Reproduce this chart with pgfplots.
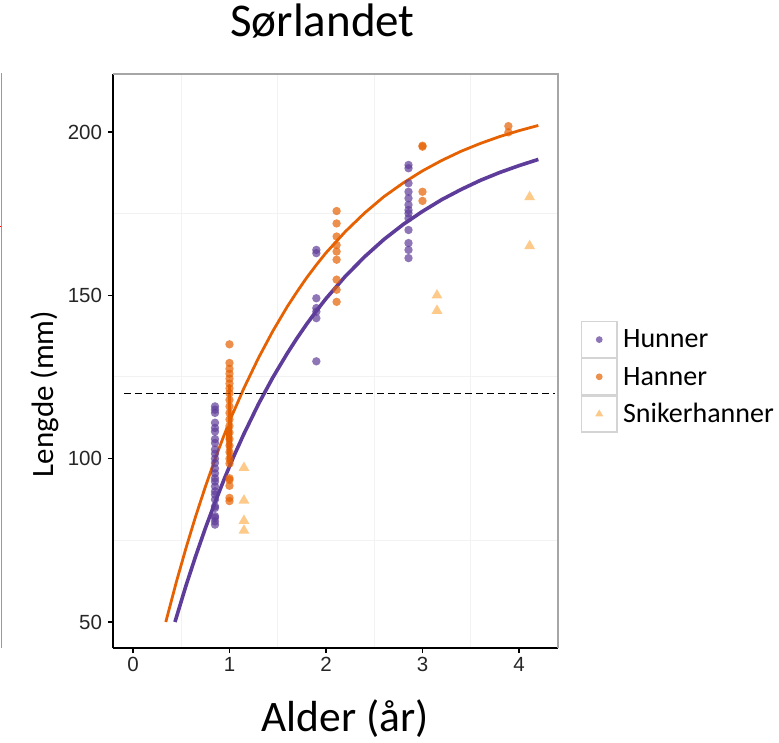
\documentclass[border=0pt]{standalone}
\usepackage{fontspec}
\setmainfont{Carlito}
\newfontfamily\arialf{Liberation Sans}
\usepackage{pgfplots}
\usepackage{pgfplotstable}
\pgfplotsset{compat=1.18}

\definecolor{hun}{HTML}{5E3C99}
\definecolor{han}{HTML}{E66101}
\definecolor{snk}{HTML}{FDB863}

% Observed lengths (mm) by age (years)
\pgfplotstableread{
x y
0.85 116.0
0.85 115.0
0.85 114.0
0.85 111.0
0.85 109.4
0.85 108.3
0.85 106.0
0.85 104.8
0.85 102.8
0.85 101.5
0.85 100.0
0.85 98.7
0.85 97.0
0.85 95.5
0.85 94.0
0.85 93.0
0.85 91.5
0.85 90.0
0.85 89.0
0.85 87.5
0.85 85.4
0.85 84.9
0.85 82.4
0.85 81.9
0.85 80.8
0.85 79.8
1.90 163.9
1.90 162.9
1.90 149.1
1.90 146.1
1.90 145.0
1.90 143.0
1.90 129.8
2.855 189.9
2.855 188.9
2.855 184.3
2.855 181.7
2.855 179.7
2.855 177.7
2.855 176.1
2.855 175.1
2.855 173.6
2.855 170.0
2.855 166.0
2.855 163.9
2.855 161.4
}\hunner

\pgfplotstableread{
x y
1.0 135.0
1.0 129.3
1.0 127.5
1.0 126.0
1.0 124.5
1.0 123.0
1.0 121.5
1.0 120.0
1.0 118.0
1.0 116.0
1.0 114.0
1.0 112.0
1.0 110.0
1.0 108.0
1.0 106.0
1.0 104.0
1.0 102.0
1.0 100.0
1.0 98.5
1.0 94.0
1.0 93.5
1.0 91.7
1.0 88.0
1.0 87.0
2.11 175.8
2.11 172.0
2.11 168.0
2.11 165.4
2.11 163.4
2.11 160.9
2.11 154.8
2.11 151.7
2.11 148.0
3.0 195.8
3.0 195.5
3.0 181.7
3.0 178.9
3.89 201.8
3.89 199.9
}\hanner

\pgfplotstableread{
x y
1.15 97.2
1.15 87.2
1.15 81.0
1.15 78.0
3.15 150.0
3.15 145.3
4.11 180.1
4.11 165.1
}\sniker

% Fitted growth curves
\pgfplotstableread{
x y
0.34 50.0
0.45 62.3
0.55 72.7
0.65 82.4
0.75 91.4
0.85 99.8
0.93 106.1
0.975 109.5
0.993 98.5
1.0 122.5
1.007 98.5
1.012 112.3
1.06 115.5
1.15 121.6
1.3 130.8
1.45 139.1
1.6 146.6
1.7 151.1
1.8 155.4
1.9 159.3
2.0 163.0
2.2 169.5
2.4 175.2
2.6 180.2
2.8 184.4
3.0 188.1
3.2 191.3
3.4 194.1
3.6 196.5
3.8 198.6
4.0 200.4
4.2 202.0
}\hanfit

\pgfplotstableread{
x y
0.435 50.0
0.55 61.2
0.65 70.2
0.75 78.7
0.85 86.6
0.95 94.1
1.05 101.1
1.15 107.6
1.3 116.7
1.45 124.9
1.6 132.3
1.7 136.9
1.8 141.2
1.9 145.2
2.0 149.0
2.2 155.8
2.4 161.8
2.6 167.1
2.8 171.7
3.0 175.7
3.2 179.3
3.4 182.4
3.6 185.2
3.8 187.6
4.0 189.7
4.2 191.6
}\hunfit

\pgfplotsset{
  keybox/.style={legend image code/.code={
    \draw[draw=black!17, line width=1.2pt, fill=white] (0pt,-18pt) rectangle (35.5pt,18pt);
    \draw[#1] plot coordinates {(17.75pt,0pt)};
  }},
}

\begin{document}
\begin{tikzpicture}
\useasboundingbox (-113pt,-94pt) rectangle (666pt,648pt);

% edge of the neighbouring panel
\draw[black!40, line width=1pt] (-111pt,0pt) -- (-111pt,575pt);
\draw[red, line width=0.8pt] (-113pt,422pt) -- (-111.5pt,422pt);

\begin{axis}[
  at={(0pt,0pt)}, anchor=south west,
  scale only axis, width=445pt, height=574pt,
  xmin=-0.207, xmax=4.404, ymin=42.04, ymax=217.75,
  axis lines*=left,
  axis line style={black, line width=1.6pt, -},
  xtick={0,1,2,3,4}, ytick={50,100,150,200},
  minor xtick={0.5,1.5,2.5,3.5}, minor ytick={75,125,175},
  xminorgrids, yminorgrids,
  minor grid style={black!5, line width=1pt},
  minor tick length=0pt,
  tick align=outside, major tick length=5pt,
  major tick style={black, line width=1.2pt},
  /pgf/number format/assume math mode=true,
  tick label style={font=\arialf\fontsize{20.5}{20.5}\selectfont, black!85},
  yticklabel style={xshift=-2.5pt},
  xticklabel style={yshift=-1pt},
  clip=false,
  legend style={
    at={(1.051,0.570)}, anchor=north west,
    draw=none, fill=none, inner sep=0pt, row sep=0pt, column sep=5.5pt,
    font=\fontsize{28}{28}\selectfont,
    nodes={inner sep=0pt},
    cells={anchor=west},
  },
  after end axis/.code={
    \draw[black!35, line width=1.2pt] (rel axis cs:0,1) -- (rel axis cs:1,1) -- (rel axis cs:1,0);
  },
]

\addplot[only marks, color=hun, mark=*, mark size=4.2pt,
  mark options={draw opacity=0, fill=hun, fill opacity=0.7},
  keybox={color=hun, mark=*, mark size=3.4pt, mark options={draw opacity=0, fill=hun, fill opacity=0.7}}]
  table[x=x, y=y] {\hunner};
\addlegendentry{Hunner}

\addplot[only marks, color=han, mark=*, mark size=4.2pt,
  mark options={draw opacity=0, fill=han, fill opacity=0.7},
  keybox={color=han, mark=*, mark size=3.4pt, mark options={draw opacity=0, fill=han, fill opacity=0.7}}]
  table[x=x, y=y] {\hanner};
\addlegendentry{Hanner}

\addplot[only marks, color=snk, mark=triangle*, mark size=6.3pt,
  mark options={draw opacity=0, fill=snk, fill opacity=0.75},
  keybox={color=snk, mark=triangle*, mark size=4.6pt, mark options={draw opacity=0, fill=snk, fill opacity=0.75}}]
  table[x=x, y=y] {\sniker};
\addlegendentry{Snikerhanner}

\addplot[forget plot, no marks, han, line width=2.8pt, line join=round]
  table[x=x, y=y] {\hanfit};
\addplot[forget plot, no marks, hun, line width=3.6pt, line join=round]
  table[x=x, y=y] {\hunfit};

\addplot[forget plot, no marks, black, line width=1.4pt, dash pattern=on 7pt off 4pt]
  coordinates {(-0.09,120) (4.37,120)};
\end{axis}

\node[anchor=base, font=\fontsize{47}{47}\selectfont] at (209.5pt,611pt) {Sørlandet};
\node[anchor=base, font=\fontsize{43.5}{43.5}\selectfont] at (232pt,-83.7pt) {Alder (år)};
\node[rotate=90, anchor=center, font=\fontsize{31}{31}\selectfont] at (-68pt,254pt) {Lengde (mm)};
\end{tikzpicture}
\end{document}
